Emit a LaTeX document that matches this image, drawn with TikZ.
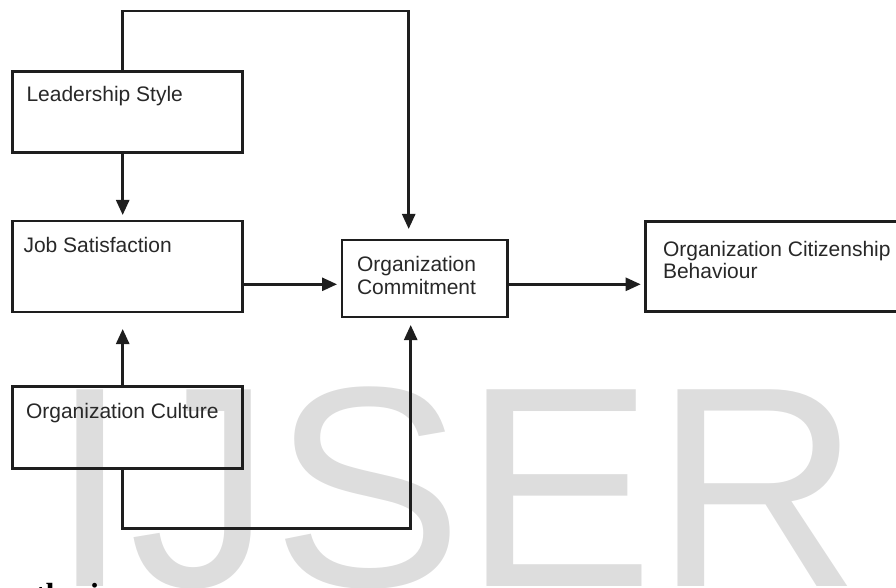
\documentclass[tikz,border=0pt]{standalone}
\usepackage{fontspec}
\setmainfont{Liberation Sans}
\newfontfamily\serifbold{Liberation Serif}
\usetikzlibrary{arrows.meta}
\definecolor{wm}{RGB}{221,221,221}
\definecolor{ink}{RGB}{30,30,30}
\definecolor{txt}{RGB}{40,40,40}
\begin{document}
\begin{tikzpicture}[x=1bp,y=-1bp,
  box/.style={draw=ink,line width=2.6bp,rectangle,inner sep=0pt,outer sep=0pt},
  lbl/.style={anchor=base west,inner sep=0pt,outer sep=0pt,text=txt,font=\fontsize{21bp}{23bp}\selectfont},
  conn/.style={draw=ink,line width=2.6bp,-{Triangle[length=15bp,width=13bp]}},
]
\useasboundingbox (0,0) rectangle (896,588);
\clip (0,0) rectangle (896,588);
% watermark
\node[anchor=base west,inner sep=0pt,outer sep=0pt,text=wm,font=\fontsize{286bp}{286bp}\selectfont] (wmark) at (50,586) {IJSER};
% cut-off caption at the bottom
\node[anchor=base west,inner sep=0pt,outer sep=0pt,font=\serifbold\bfseries\fontsize{32bp}{32bp}\selectfont] (hyp) at (19,605) {othesis};
% boxes
\node[box,minimum width=230bp,minimum height=81bp] (ls) at (127.7,112.2) {};
\node[box,minimum width=230bp,minimum height=91bp] (js) at (127.7,266.5) {};
\node[box,minimum width=230bp,minimum height=81.6bp] (cul) at (127.7,427.5) {};
\node[box,minimum width=165.3bp,minimum height=77bp] (oc) at (424.7,278.5) {};
\node[box,minimum width=284.3bp,minimum height=89.8bp] (ocb) at (787.85,266.6) {};
% labels
\node[lbl] (tls) at (26.5,102) {Leadership Style};
\node[lbl] (tjs) at (23.5,253) {Job Satisfaction};
\node[lbl] (tcul) at (26,418) {Organization Culture};
\node[lbl] (toc1) at (357,271) {Organization};
\node[lbl] (toc2) at (357,294) {Commitment};
\node[lbl] (tocb1) at (663,257) {Organization Citizenship};
\node[lbl] (tocb2) at (663,278) {Behaviour};
% routing points
\coordinate (ta) at (122.7,11);
\coordinate (tb) at (408.7,11);
\coordinate (hy) at (0,284.3);
\coordinate (ba) at (122.7,528.3);
\coordinate (bb) at (410.7,528.3);
% connectors
\draw[conn,shorten >=11bp] (ls.north -| ta) -- (ta) -- (tb) -- (oc.north -| tb);
\draw[conn,shorten >=6bp] (ls.south -| ta) -- (js.north -| ta);
\draw[conn,shorten >=5bp] (js.east |- hy) -- (oc.west |- hy);
\draw[conn,shorten >=5bp] (oc.east |- hy) -- (ocb.west |- hy);
\draw[conn,shorten >=17bp] (cul.north -| ta) -- (js.south -| ta);
\draw[conn,shorten >=8bp] (cul.south -| ba) -- (ba) -- (bb) -- (oc.south -| bb);
\end{tikzpicture}
\end{document}
